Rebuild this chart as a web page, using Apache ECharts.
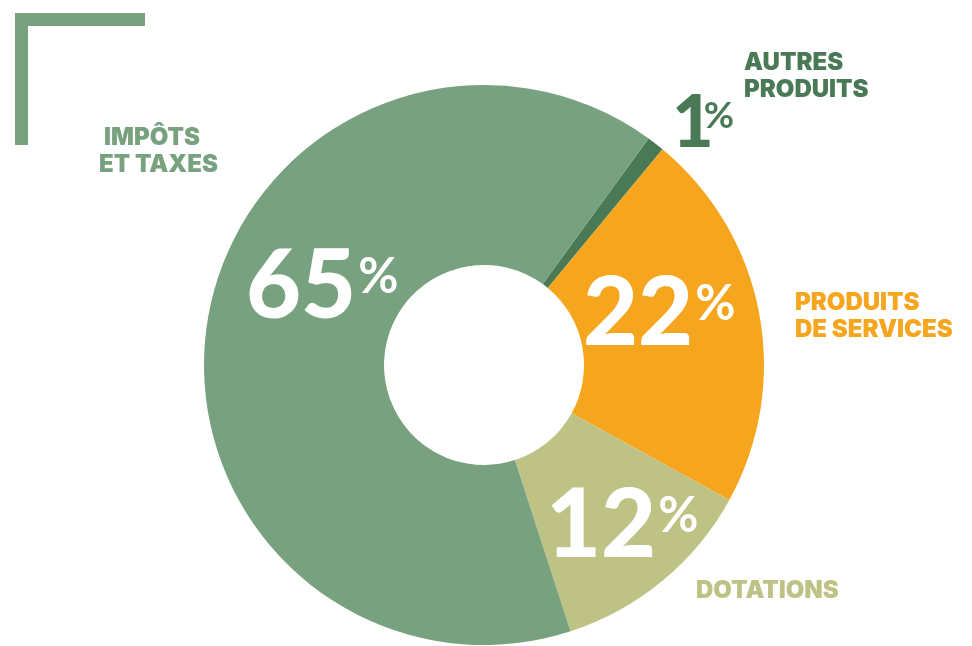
<!DOCTYPE html>
<html>
<head>
<meta charset="utf-8">
<script src="https://cdn.jsdelivr.net/npm/echarts@6/dist/echarts.min.js"></script>
<style>
  html, body { margin: 0; padding: 0; background: #fff; }
  #chart { width: 972px; height: 646px; }
</style>
</head>
<body>
<div id="chart"></div>
<script>
// données
var categories = ['AUTRES\nPRODUITS', 'PRODUITS\nDE SERVICES', 'DOTATIONS', 'IMPÔTS\nET TAXES'];
var values = [1, 22, 12, 65];
var colors = ['#4a7a55', '#f6a51f', '#bec385', '#78a27f'];

var chart = echarts.init(document.getElementById('chart'));
var font = 'Lato, "Open Sans", sans-serif';
var labelFont = '900 24px Inter, "DejaVu Sans", sans-serif';
var ctx = document.createElement('canvas').getContext('2d');

// big percent label: number + small % sign
function pct(i, x, y, size, color, gap) {
  var num = String(values[i]);
  var f = '900 ' + size + 'px ' + font;
  ctx.font = f;
  var w = ctx.measureText(num).width;
  return [
    { type: 'text', left: x, top: y, z: 10,
      style: { text: num, fill: color, font: f } },
    { type: 'text', left: x + w + (gap || 2), top: y + size * 0.13, z: 10,
      style: { text: '%', fill: color, font: '700 ' + Math.round(size * 0.52) + 'px ' + font } }
  ];
}
function name(text, color, x, y) {
  return { type: 'text', left: x, top: y, z: 10,
    style: { text: text, fill: color, font: labelFont, lineHeight: 27 } };
}

var option = {
  animation: false,
  series: [{
    type: 'pie',
    center: [484, 365],
    radius: [100, 280],
    startAngle: 54,
    clockwise: true,
    label: { show: false },
    labelLine: { show: false },
    itemStyle: { borderWidth: 0 },
    data: values.map(function (v, i) {
      return { value: v, name: categories[i], itemStyle: { color: colors[i] } };
    })
  }],
  graphic: [
    { type: 'rect', shape: { x: 15, y: 13, width: 130, height: 13 }, style: { fill: '#78a27f' } },
    { type: 'rect', shape: { x: 15, y: 13, width: 13, height: 132 }, style: { fill: '#78a27f' } },
    name('IMPÔTS', colors[3], 104, 124),
    name('ET TAXES', colors[3], 99, 151),
    name(categories[0], colors[0], 744, 49),
    name(categories[1], colors[1], 795, 289),
    name(categories[2], colors[2], 696, 577)
  ]
  .concat(pct(3, 246, 240, 95, '#fff'))
  .concat(pct(1, 583, 267, 95, '#fff'))
  .concat(pct(2, 546, 479, 95, '#fff'))
  .concat(pct(0, 672, 88, 72, '#4a7a55', -10))
};
chart.setOption(option);
</script>
</body>
</html>
